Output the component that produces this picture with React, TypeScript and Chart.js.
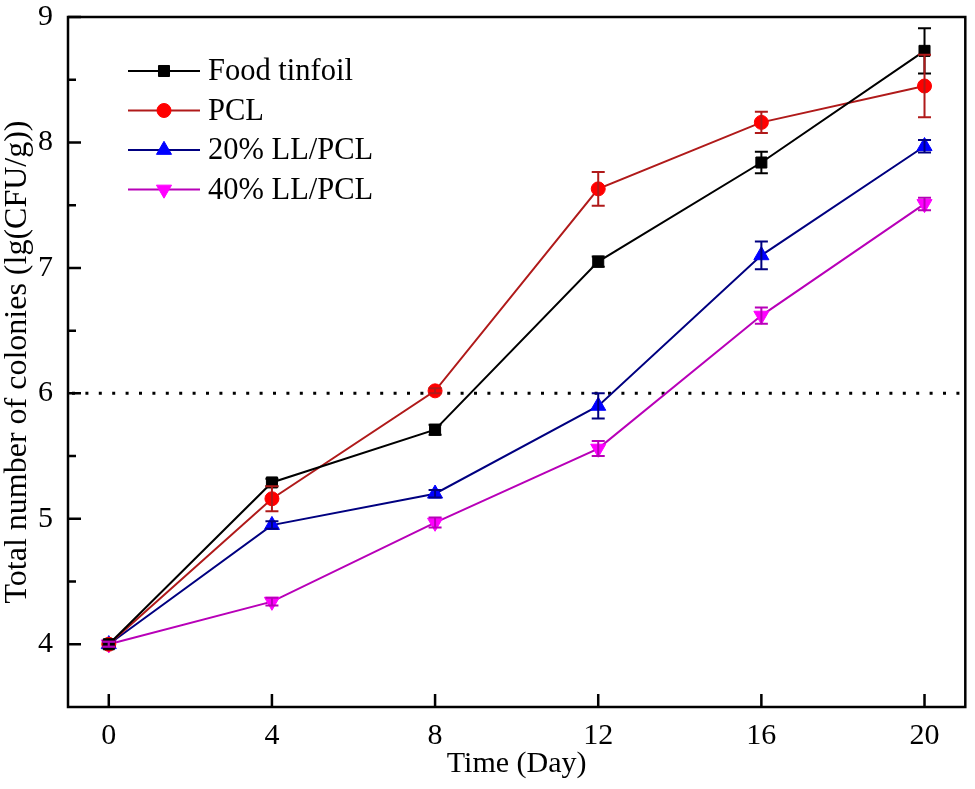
import { useEffect, useRef } from 'react';
import { Chart, registerables } from 'chart.js';
import { drawPoint } from 'chart.js/helpers';

Chart.register(...registerables);

const days = [0, 4, 8, 12, 16, 20];
const foodTinfoil = [4.0, 5.29, 5.71, 7.05, 7.84, 8.73];
const foodTinfoilErr = [0.02, 0.03, 0.04, 0.04, 0.085, 0.18];
const pcl = [4.0, 5.16, 6.02, 7.63, 8.16, 8.45];
const pclErr = [0.02, 0.1, 0.02, 0.135, 0.085, 0.25];
const ll20 = [4.0, 4.95, 5.2, 5.9, 7.1, 7.97];
const ll20Err = [0.02, 0.03, 0.03, 0.1, 0.11, 0.05];
const ll40 = [4.0, 4.34, 4.97, 5.56, 6.62, 7.51];
const ll40Err = [0.02, 0.03, 0.04, 0.06, 0.065, 0.05];

const xTicks = [0, 4, 8, 12, 16, 20];
const yTicks = [4, 5, 6, 7, 8, 9];
const yMinorTicks = [4.5, 5.5, 6.5, 7.5, 8.5];
const thresholdY = 6;

const FONT = '"Liberation Serif", "Times New Roman", serif';

const series = [
  { label: 'Food tinfoil', values: foodTinfoil, errs: foodTinfoilErr, line: '#000000', fill: '#000000', style: 'rect', radius: 7.8, rotation: 0 },
  { label: 'PCL', values: pcl, errs: pclErr, line: '#b01a1a', fill: '#ff0000', style: 'circle', radius: 7, rotation: 0 },
  { label: '20% LL/PCL', values: ll20, errs: ll20Err, line: '#000080', fill: '#0000ff', style: 'triangle', radius: 8.7, rotation: 0 },
  { label: '40% LL/PCL', values: ll40, errs: ll40Err, line: '#b800b8', fill: '#ff00ff', style: 'triangle', radius: 8.7, rotation: 180 },
];

// error bars, dotted threshold, inward ticks, frame and the line+marker legend
const decorPlugin = {
  id: 'decor',
  beforeDatasetsDraw(chart: any) {
    const { ctx, chartArea, scales } = chart;
    const y = scales.y.getPixelForValue(thresholdY);
    ctx.save();
    ctx.strokeStyle = '#000';
    ctx.lineWidth = 3;
    ctx.setLineDash([3, 10.4]);
    ctx.beginPath();
    ctx.moveTo(chartArea.left + 4, y);
    ctx.lineTo(chartArea.right, y);
    ctx.stroke();
    ctx.restore();
  },
  afterDatasetsDraw(chart: any) {
    const { ctx, chartArea, scales } = chart;
    const xs = scales.x;
    const ys = scales.y;
    ctx.save();
    ctx.lineWidth = 2;
    series.forEach((s) => {
      ctx.strokeStyle = s.line;
      s.values.forEach((v, i) => {
        const px = xs.getPixelForValue(days[i]);
        const top = ys.getPixelForValue(v + s.errs[i]);
        const bot = ys.getPixelForValue(v - s.errs[i]);
        ctx.beginPath();
        ctx.moveTo(px, top);
        ctx.lineTo(px, bot);
        ctx.moveTo(px - 6.5, top);
        ctx.lineTo(px + 6.5, top);
        ctx.moveTo(px - 6.5, bot);
        ctx.lineTo(px + 6.5, bot);
        ctx.stroke();
      });
    });

    // frame
    ctx.strokeStyle = '#000';
    ctx.lineWidth = 2.5;
    ctx.strokeRect(chartArea.left, chartArea.top, chartArea.right - chartArea.left, chartArea.bottom - chartArea.top);

    // inward ticks
    ctx.beginPath();
    yTicks.forEach((t) => {
      const py = ys.getPixelForValue(t);
      ctx.moveTo(chartArea.left, py);
      ctx.lineTo(chartArea.left + 13, py);
    });
    yMinorTicks.forEach((t) => {
      const py = ys.getPixelForValue(t);
      ctx.moveTo(chartArea.left, py);
      ctx.lineTo(chartArea.left + 8, py);
    });
    xTicks.forEach((t) => {
      const px = xs.getPixelForValue(t);
      ctx.moveTo(px, chartArea.bottom);
      ctx.lineTo(px, chartArea.bottom - 13);
    });
    ctx.stroke();

    // legend
    const lx0 = 128;
    const lx1 = 200;
    series.forEach((s, i) => {
      const ly = 71 + i * 39.5;
      ctx.strokeStyle = s.line;
      ctx.lineWidth = 2;
      ctx.beginPath();
      ctx.moveTo(lx0, ly);
      ctx.lineTo(lx1, ly);
      ctx.stroke();
      ctx.fillStyle = s.fill;
      ctx.strokeStyle = s.fill;
      ctx.lineWidth = 1;
      drawPoint(ctx, { pointStyle: s.style, radius: s.radius, rotation: s.rotation, borderWidth: 1 }, (lx0 + lx1) / 2, ly);
      ctx.fillStyle = '#000';
      ctx.font = `30.5px ${FONT}`;
      ctx.textAlign = 'left';
      ctx.textBaseline = 'middle';
      ctx.fillText(s.label, 208, ly + 1);
    });
    ctx.restore();
  },
};

export default function App() {
  const canvasRef = useRef<HTMLCanvasElement>(null);
  const chartRef = useRef<Chart | null>(null);

  useEffect(() => {
    if (chartRef.current) {
      chartRef.current.destroy();
      chartRef.current = null;
    }
    const ctx = canvasRef.current?.getContext('2d');
    if (!ctx) return;

    chartRef.current = new Chart(ctx, {
      type: 'line',
      data: {
        datasets: series.map((s) => ({
          label: s.label,
          data: s.values.map((v, i) => ({ x: days[i], y: v })),
          borderColor: s.line,
          borderWidth: 2,
          backgroundColor: s.fill,
          pointBackgroundColor: s.fill,
          pointBorderColor: s.fill,
          pointBorderWidth: 1,
          pointStyle: s.style as any,
          pointRadius: s.radius,
          pointRotation: s.rotation,
          tension: 0,
          fill: false,
        })),
      },
      options: {
        animation: false,
        responsive: false,
        devicePixelRatio: 1,
        layout: { padding: { top: 17, right: 8, left: 0, bottom: 0 } },
        plugins: {
          legend: { display: false },
          tooltip: { enabled: false },
        },
        scales: {
          x: {
            type: 'linear',
            min: -1,
            max: 21,
            afterBuildTicks: (scale: any) => {
              scale.ticks = xTicks.map((v) => ({ value: v }));
            },
            afterFit: (scale: any) => {
              scale.height = 82;
              scale.paddingLeft = 0;
              scale.paddingRight = 0;
            },
            grid: { display: false, drawTicks: false },
            border: { display: false },
            ticks: {
              color: '#000',
              padding: 11,
              font: { family: FONT, size: 30 },
            },
            title: {
              display: true,
              text: 'Time (Day)',
              color: '#000',
              padding: { top: 0, bottom: 7 },
              font: { family: FONT, size: 30 },
            },
          },
          y: {
            min: 3.5,
            max: 9,
            afterBuildTicks: (scale: any) => {
              scale.ticks = yTicks.map((v) => ({ value: v }));
            },
            afterFit: (scale: any) => {
              scale.width = 68;
              scale.paddingTop = 0;
              scale.paddingBottom = 0;
            },
            grid: { display: false, drawTicks: false },
            border: { display: false },
            ticks: {
              color: '#000',
              padding: 15,
              font: { family: FONT, size: 30 },
            },
            title: {
              display: true,
              text: 'Total number of colonies (lg(CFU/g))',
              color: '#000',
              padding: { top: 2, bottom: 0 },
              font: { family: FONT, size: 32, lineHeight: 1 },
            },
          },
        },
      },
      plugins: [decorPlugin],
    });

    return () => {
      if (chartRef.current) {
        chartRef.current.destroy();
        chartRef.current = null;
      }
    };
  }, []);

  return (
    <div style={{ position: 'absolute', left: 0, top: 0, width: 975, height: 789, background: '#fff' }}>
      <canvas ref={canvasRef} width={975} height={789}></canvas>
    </div>
  );
}
